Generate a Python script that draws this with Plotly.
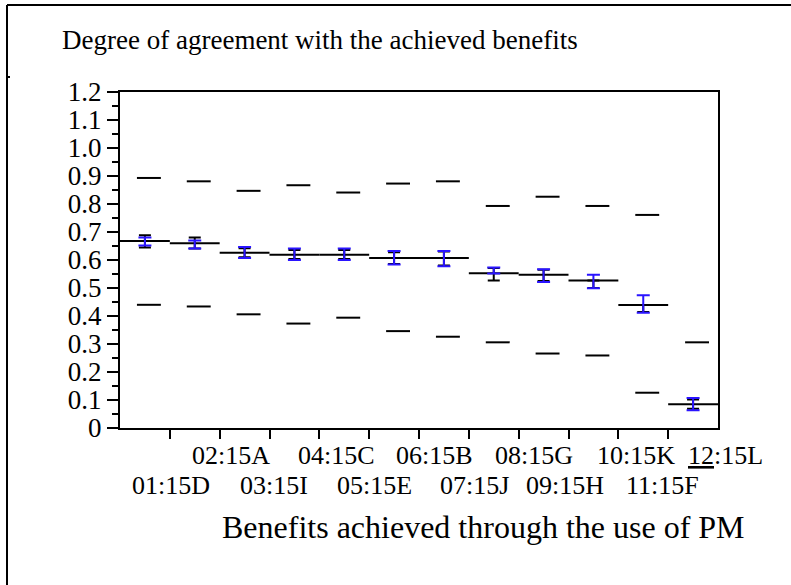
import plotly.graph_objects as go

# ---------------- data ----------------
categories = ["01:15D", "02:15A", "03:15I", "04:15C", "05:15E", "06:15B",
              "07:15J", "08:15G", "09:15H", "10:15K", "11:15F", "12:15L"]
means = [0.668, 0.660, 0.626, 0.619, 0.619, 0.607, 0.607, 0.553, 0.547, 0.527, 0.439, 0.085]
upper_sd = [0.893, 0.881, 0.847, 0.867, 0.841, 0.873, 0.881, 0.793, 0.826, 0.793, 0.761, 0.306]
lower_sd = [0.440, 0.434, 0.406, 0.373, 0.394, 0.346, 0.326, 0.306, 0.266, 0.259, 0.126, None]
black_lo = [0.645, 0.641, 0.610, 0.604, 0.604, 0.586, 0.580, 0.527, 0.525, 0.500, 0.414, 0.069]
black_hi = [0.688, 0.680, 0.642, 0.636, 0.636, 0.628, 0.630, 0.571, 0.565, 0.527, 0.439, 0.102]
blue_lo = [0.652, 0.641, 0.607, 0.600, 0.600, 0.584, 0.578, 0.552, 0.521, 0.499, 0.412, 0.063]
blue_hi = [0.680, 0.670, 0.646, 0.641, 0.641, 0.632, 0.632, 0.573, 0.567, 0.547, 0.474, 0.107]
y_tick_vals = [0, 0.1, 0.2, 0.3, 0.4, 0.5, 0.6, 0.7, 0.8, 0.9, 1.0, 1.1, 1.2]
y_tick_text = ["0", "0.1", "0.2", "0.3", "0.4", "0.5", "0.6", "0.7", "0.8", "0.9", "1.0", "1.1", "1.2"]

# ---------------- layout constants ----------------
W, H = 791, 585
L, R, T, B = 120, 718, 92, 428
FONT = "Liberation Serif, Times New Roman, serif"
label_x = [1.02, 2.23, 3.09, 4.35, 5.10, 6.32, 7.12, 8.31, 8.93, 10.36, 10.88, 12.16]
dash_left, dash_right = -0.16, 0.32


def px(x):
    return (x - L) / (R - L)


def py(y):
    return (B - y) / (B - T)


n = len(categories)
centers = [i + 0.5 for i in range(n)]

# mean lines across each category
mx, my = [], []
for i, m in enumerate(means):
    mx += [i, i + 1, None]
    my += [m, m, None]


def dashes(vals):
    xs, ys = [], []
    for c, v in zip(centers, vals):
        if v is None:
            continue
        xs += [c + dash_left, c + dash_right, None]
        ys += [v, v, None]
    return xs, ys


ux, uy = dashes(upper_sd)
lx, ly = dashes(lower_sd)

fig = go.Figure()
line_style = dict(color="black", width=2)
fig.add_trace(go.Scatter(x=mx, y=my, mode="lines", line=line_style, hoverinfo="skip"))
fig.add_trace(go.Scatter(x=ux, y=uy, mode="lines", line=line_style, hoverinfo="skip"))
fig.add_trace(go.Scatter(x=lx, y=ly, mode="lines", line=line_style, hoverinfo="skip"))

bk_mid = [(a + b) / 2 for a, b in zip(black_lo, black_hi)]
bk_half = [(b - a) / 2 for a, b in zip(black_lo, black_hi)]
bl_mid = [(a + b) / 2 for a, b in zip(blue_lo, blue_hi)]
bl_half = [(b - a) / 2 for a, b in zip(blue_lo, blue_hi)]

fig.add_trace(go.Scatter(
    x=centers, y=bk_mid, mode="markers",
    marker=dict(size=1, color="rgba(0,0,0,0)"),
    error_y=dict(type="data", array=bk_half, visible=True, color="black",
                 thickness=2, width=6),
    hoverinfo="skip"))
fig.add_trace(go.Scatter(
    x=centers, y=bl_mid, mode="markers",
    marker=dict(size=1, color="rgba(0,0,0,0)"),
    error_y=dict(type="data", array=bl_half, visible=True, color="#2a14ff",
                 thickness=2, width=6.5),
    hoverinfo="skip"))

annotations = []
for i, (lab, x) in enumerate(zip(categories, label_x)):
    txt = lab
    if lab.startswith("12"):
        txt = "<span style='text-decoration:underline'>12</span>" + lab[2:]
    annotations.append(dict(
        x=x / n, y=0, xref="paper", yref="paper", text=txt, showarrow=False,
        xanchor="center", yanchor="middle", yshift=(-57 if i % 2 == 0 else -27),
        font=dict(family=FONT, size=26, color="black")))

annotations.append(dict(
    x=px(60), y=py(40), xref="paper", yref="paper",
    text="Degree of agreement with the achieved benefits", showarrow=False,
    xanchor="left", yanchor="middle",
    font=dict(family=FONT, size=27, color="black")))
annotations.append(dict(
    x=px(483), y=py(527), xref="paper", yref="paper",
    text="Benefits achieved through the use of PM", showarrow=False,
    xanchor="center", yanchor="middle",
    font=dict(family=FONT, size=32, color="black")))

shapes = [
    dict(type="line", xref="paper", yref="paper", x0=px(7), x1=px(W + 5), y0=py(5), y1=py(5),
         line=dict(color="black", width=2)),
    dict(type="line", xref="paper", yref="paper", x0=px(7), x1=px(7), y0=py(5), y1=py(H + 5),
         line=dict(color="black", width=2)),
    dict(type="line", xref="paper", yref="paper", x0=px(7), x1=px(10), y0=py(77), y1=py(77),
         line=dict(color="black", width=2)),
]

minor_vals = [v + 0.05 for v in y_tick_vals[:-1]]

fig.update_layout(
    width=W, height=H,
    margin=dict(l=L, r=W - R, t=T, b=H - B, autoexpand=False),
    paper_bgcolor="white", plot_bgcolor="white",
    showlegend=False,
    annotations=annotations,
    shapes=shapes,
    xaxis=dict(range=[0, n], showgrid=False, zeroline=False, showline=True, mirror=True,
               linecolor="black", linewidth=2, ticks="outside", tickmode="array",
               tickvals=list(range(1, n)), ticklen=9, tickwidth=2, tickcolor="black",
               showticklabels=False, fixedrange=True),
    yaxis=dict(range=[0, 1.2], showgrid=False, zeroline=False, showline=True, mirror=True,
               linecolor="black", linewidth=2, ticks="outside", tickmode="array",
               tickvals=y_tick_vals, ticktext=y_tick_text, ticklen=11, tickwidth=2,
               tickcolor="black", ticklabelstandoff=0,
               tickfont=dict(family=FONT, size=27, color="black"),
               minor=dict(tickmode="array", tickvals=minor_vals, ticks="outside",
                          ticklen=6, tickwidth=2, tickcolor="black", showgrid=False),
               fixedrange=True),
)

fig.write_html("out.html", config={"displayModeBar": False},
               post_script="document.body.style.margin='0px';")
